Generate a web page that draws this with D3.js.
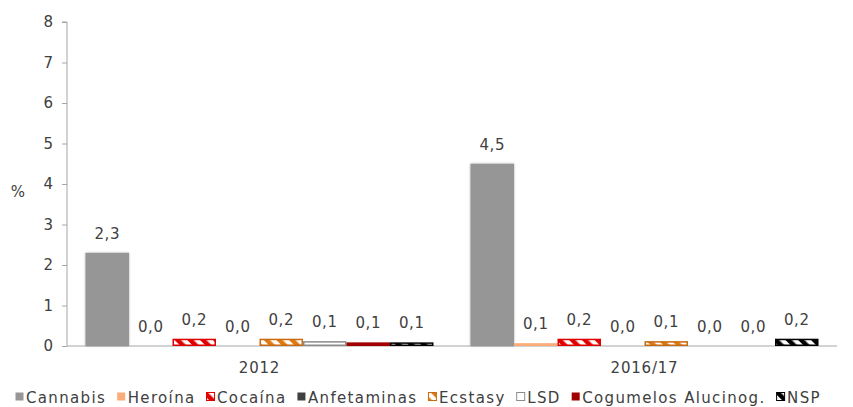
<!DOCTYPE html>
<html>
<head>
<meta charset="utf-8">
<script src="https://cdn.jsdelivr.net/npm/d3@7"></script>
<style>
  body { margin: 0; background: #fff; }
  svg text { font-family: "DejaVu Sans", sans-serif; fill: #404040; }
</style>
</head>
<body>
<script>
// data
var periods = ["2012", "2016/17"];
var drugs = ["Cannabis", "Heroína", "Cocaína", "Anfetaminas", "Ecstasy", "LSD", "Cogumelos Alucinog.", "NSP"];
var values2012 = [2.3, 0.0, 0.18, 0.0, 0.18, 0.12, 0.09, 0.09];
var values2016 = [4.5, 0.07, 0.18, 0.0, 0.12, 0.0, 0.0, 0.18];
var yTicks = [0, 1, 2, 3, 4, 5, 6, 7, 8];

var svgWidth = 853;
var svgHeight = 407;

var rows = [];
periods.forEach(function(p, i) {
    var vals = i == 0 ? values2012 : values2016;
    drugs.forEach(function(d, j) {
        rows.push({ period: p, drug: d, value: vals[j] });
    });
});

var svg = d3.select("body").append("svg")
    .attr("width", svgWidth)
    .attr("height", svgHeight);

var defs = svg.append("defs");
// diagonal stripes "\"
function stripes(id, color) {
    var p = defs.append("pattern")
        .attr("id", id)
        .attr("patternUnits", "userSpaceOnUse")
        .attr("width", 9)
        .attr("height", 9)
        .attr("patternTransform", "rotate(-45)");
    p.append("rect").attr("width", 9).attr("height", 9).attr("fill", "#fff");
    p.append("rect").attr("width", 4.5).attr("height", 9).attr("fill", color);
}
stripes("stripeRed", "#e00000");
stripes("stripeOrange", "#e07a10");
stripes("stripeBlack", "#000");

var shadow = defs.append("filter").attr("id", "shadow")
    .attr("x", "-20%").attr("y", "-10%").attr("width", "140%").attr("height", "120%");
shadow.append("feDropShadow")
    .attr("dx", 0).attr("dy", 0).attr("stdDeviation", 1.2)
    .attr("flood-color", "#000").attr("flood-opacity", 0.35);

// fill / stroke per drug
var fills = ["#969696", "#fbac78", "url(#stripeRed)", "#404040", "url(#stripeOrange)", "#ffffff", "#a00000", "url(#stripeBlack)"];
var strokes = ["none", "none", "#e00000", "none", "#c86a10", "#8c8c8c", "none", "#000"];

var plotLeft = 67, plotRight = 837, plotTop = 22, plotBottom = 346;

var x0 = d3.scaleBand().domain(periods).range([plotLeft, plotRight]).padding(0);
var x1 = d3.scaleBand().domain(drugs).range([0, x0.bandwidth()])
    .paddingInner(0).paddingOuter(0.425);
var y = d3.scaleLinear().domain([0, 8]).range([plotBottom, plotTop]);

var fmt = function(v) { return d3.format(".1f")(v).replace(".", ","); };

// y axis
var yAxis = d3.axisLeft(y).tickValues(yTicks).tickSize(5).tickPadding(9).tickFormat(d3.format("d"));
var gy = svg.append("g").attr("transform", "translate(" + plotLeft + ",0)").call(yAxis);
gy.selectAll("path, line").attr("stroke", "#a6a6a6");
gy.select(".domain").attr("d", "M-5," + plotTop + "H0V" + plotBottom);
gy.selectAll("text").attr("font-size", 15).style("font-family", "DejaVu Sans").attr("fill", "#404040");

svg.append("text")
    .attr("x", 18).attr("y", 197)
    .attr("text-anchor", "middle")
    .attr("font-size", 15)
    .text("%");

// x axis
var xAxis = d3.axisBottom(x0).tickSize(0).tickPadding(16);
var gx = svg.append("g").attr("transform", "translate(0," + plotBottom + ")").call(xAxis);
gx.select(".domain").attr("stroke", "#a6a6a6").attr("d", "M" + plotLeft + ",0H" + plotRight);
gx.selectAll("text").attr("font-size", 15).style("font-family", "DejaVu Sans").attr("fill", "#404040")
    .attr("letter-spacing", 0.8);

// bars
function inset(d) { return strokes[drugs.indexOf(d.drug)] == "none" ? 0 : 0.75; }
svg.append("g").selectAll("rect")
    .data(rows)
    .join("rect")
    .attr("x", function(d) { return x0(d.period) + x1(d.drug) + inset(d); })
    .attr("y", function(d) { return y(d.value) + inset(d); })
    .attr("width", function(d) { return x1.bandwidth() - 2 * inset(d); })
    .attr("height", function(d) { return Math.max(0, y(0) - y(d.value) - 2 * inset(d)); })
    .attr("fill", function(d) { return fills[drugs.indexOf(d.drug)]; })
    .attr("stroke", function(d) { return d.value > 0 ? strokes[drugs.indexOf(d.drug)] : "none"; })
    .attr("stroke-width", 1.5)
    .attr("filter", function(d) { return d.drug == "Cannabis" ? "url(#shadow)" : null; });

// value labels
svg.append("g").selectAll("text")
    .data(rows)
    .join("text")
    .attr("x", function(d) { return x0(d.period) + x1(d.drug) + x1.bandwidth() / 2; })
    .attr("y", function(d) { return y(d.value) - 14; })
    .attr("text-anchor", "middle")
    .attr("font-size", 15)
    .attr("letter-spacing", 0.6)
    .text(function(d) { return fmt(d.value); });

// legend
var legend = svg.append("g");
var lx = 15, ly = 397;
drugs.forEach(function(d, i) {
    var g = legend.append("g");
    g.append("rect")
        .attr("x", lx + 0.5).attr("y", ly - 4.5)
        .attr("width", 8).attr("height", 8)
        .attr("fill", fills[i])
        .attr("stroke", strokes[i] == "none" ? (i == 5 ? "#8c8c8c" : "none") : strokes[i])
        .attr("stroke-width", 1);
    var t = g.append("text")
        .attr("x", lx + 11).attr("y", ly + 5.5)
        .attr("font-size", 15)
        .attr("letter-spacing", 1.35)
        .text(d);
    lx += 11 + t.node().getComputedTextLength() + 10.5;
});
</script>
</body>
</html>
